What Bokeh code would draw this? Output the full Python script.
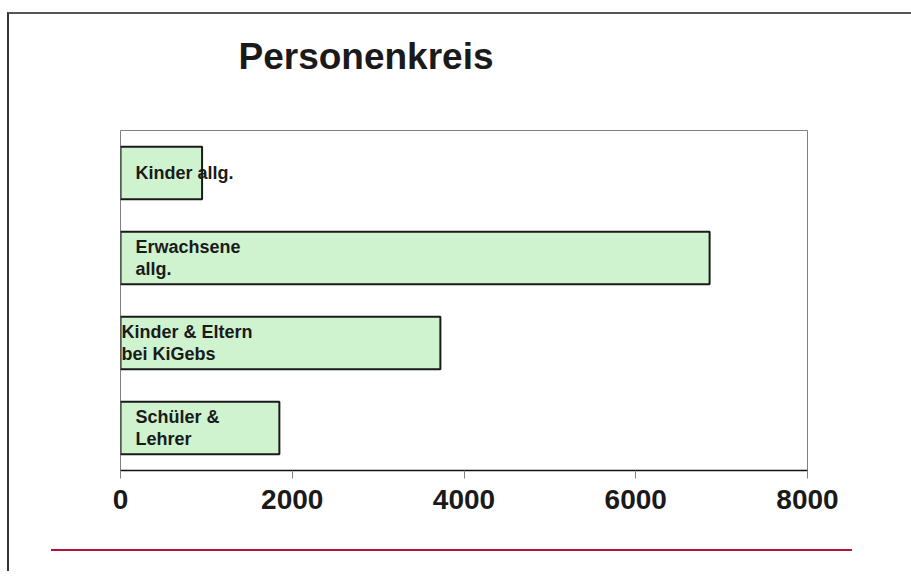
from bokeh.plotting import figure
from bokeh.models import FactorRange, Range1d, FixedTicker, ColumnDataSource, InlineStyleSheet
from bokeh.core.properties import value
from bokeh.embed import file_html
from bokeh.resources import INLINE

# ---- data ----
categories = ["Kinder allg.", "Erwachsene allg.", "Kinder & Eltern bei KiGebs", "Schüler & Lehrer"]
bar_labels = ["Kinder allg.", "Erwachsene\nallg.", "Kinder & Eltern\nbei KiGebs", "Schüler &\nLehrer"]
counts = [950, 6860, 3725, 1850]
x_ticks = [0, 2000, 4000, 6000, 8000]
title_text = "Personenkreis"

# ---- styling ----
label_offsets = [15, 15, 1, 15]
FONT = "Liberation Sans"
TXT = "#1a1a1a"

src = ColumnDataSource(dict(cat=categories, val=counts, lab=bar_labels,
                            zero=[0] * len(categories), off=label_offsets))

p = figure(width=911, height=571,
           y_range=FactorRange(factors=categories[::-1]),
           x_range=Range1d(0, 8000),
           output_backend="svg", toolbar_location=None,
           min_border_left=120, min_border_right=104,
           min_border_top=130, min_border_bottom=101,
           title=title_text + "\n")

p.hbar(y="cat", left=0, right="val", height=0.62, source=src,
       fill_color="#CEF3CE", line_color="#1a1a1a", line_width=2)

p.text(x="zero", y="cat", text="lab", x_offset="off", source=src,
       text_font=value(FONT), text_font_style="bold", text_font_size="18px",
       text_color=TXT, text_align="left", text_baseline="middle",
       text_line_height=1.06)

p.yaxis.visible = False
p.xgrid.visible = False
p.ygrid.visible = False
p.outline_line_color = "#808080"
p.outline_line_width = 1
p.border_fill_color = "white"

p.title.text_font = FONT
p.title.text_font_style = "bold"
p.title.text_font_size = "37px"
p.title.text_color = TXT
p.title.text_line_height = 1.0
p.title.align = "left"
p.title.vertical_align = "top"
p.title.offset = 118
p.title.standoff = 22

ax = p.xaxis[0]
ax.ticker = FixedTicker(ticks=x_ticks)
ax.minor_tick_line_color = None
ax.major_tick_in = 0
ax.major_tick_out = 8
ax.major_tick_line_color = "#808080"
ax.axis_line_color = "#111111"
ax.axis_line_width = 1.5
ax.major_label_text_font = FONT
ax.major_label_text_font_style = "bold"
ax.major_label_text_font_size = "28px"
ax.major_label_text_color = TXT
ax.major_label_standoff = 11

# outer frame (left/top lines) + red rule in ::before; ::after keeps the right margin blank
css = """
:host { position: relative; overflow: hidden !important; }
:host::before {
  content: ""; position: absolute; left: 7px; top: 12px; right: 0; bottom: 0;
  border-left: 2px solid #333333; border-top: 2px solid #555555;
  background-image: linear-gradient(#B5123A, #B5123A);
  background-repeat: no-repeat;
  background-position: 42px 535px;
  background-size: 801px 2px;
  pointer-events: none; z-index: 5;
}
:host::after {
  content: ""; position: absolute; right: 0; top: 15px; bottom: 0; width: 8px;
  background: white; pointer-events: none; z-index: 10;
}
"""
p.stylesheets = [InlineStyleSheet(css=css)]

open("out.html", "w").write(file_html(p, INLINE))
